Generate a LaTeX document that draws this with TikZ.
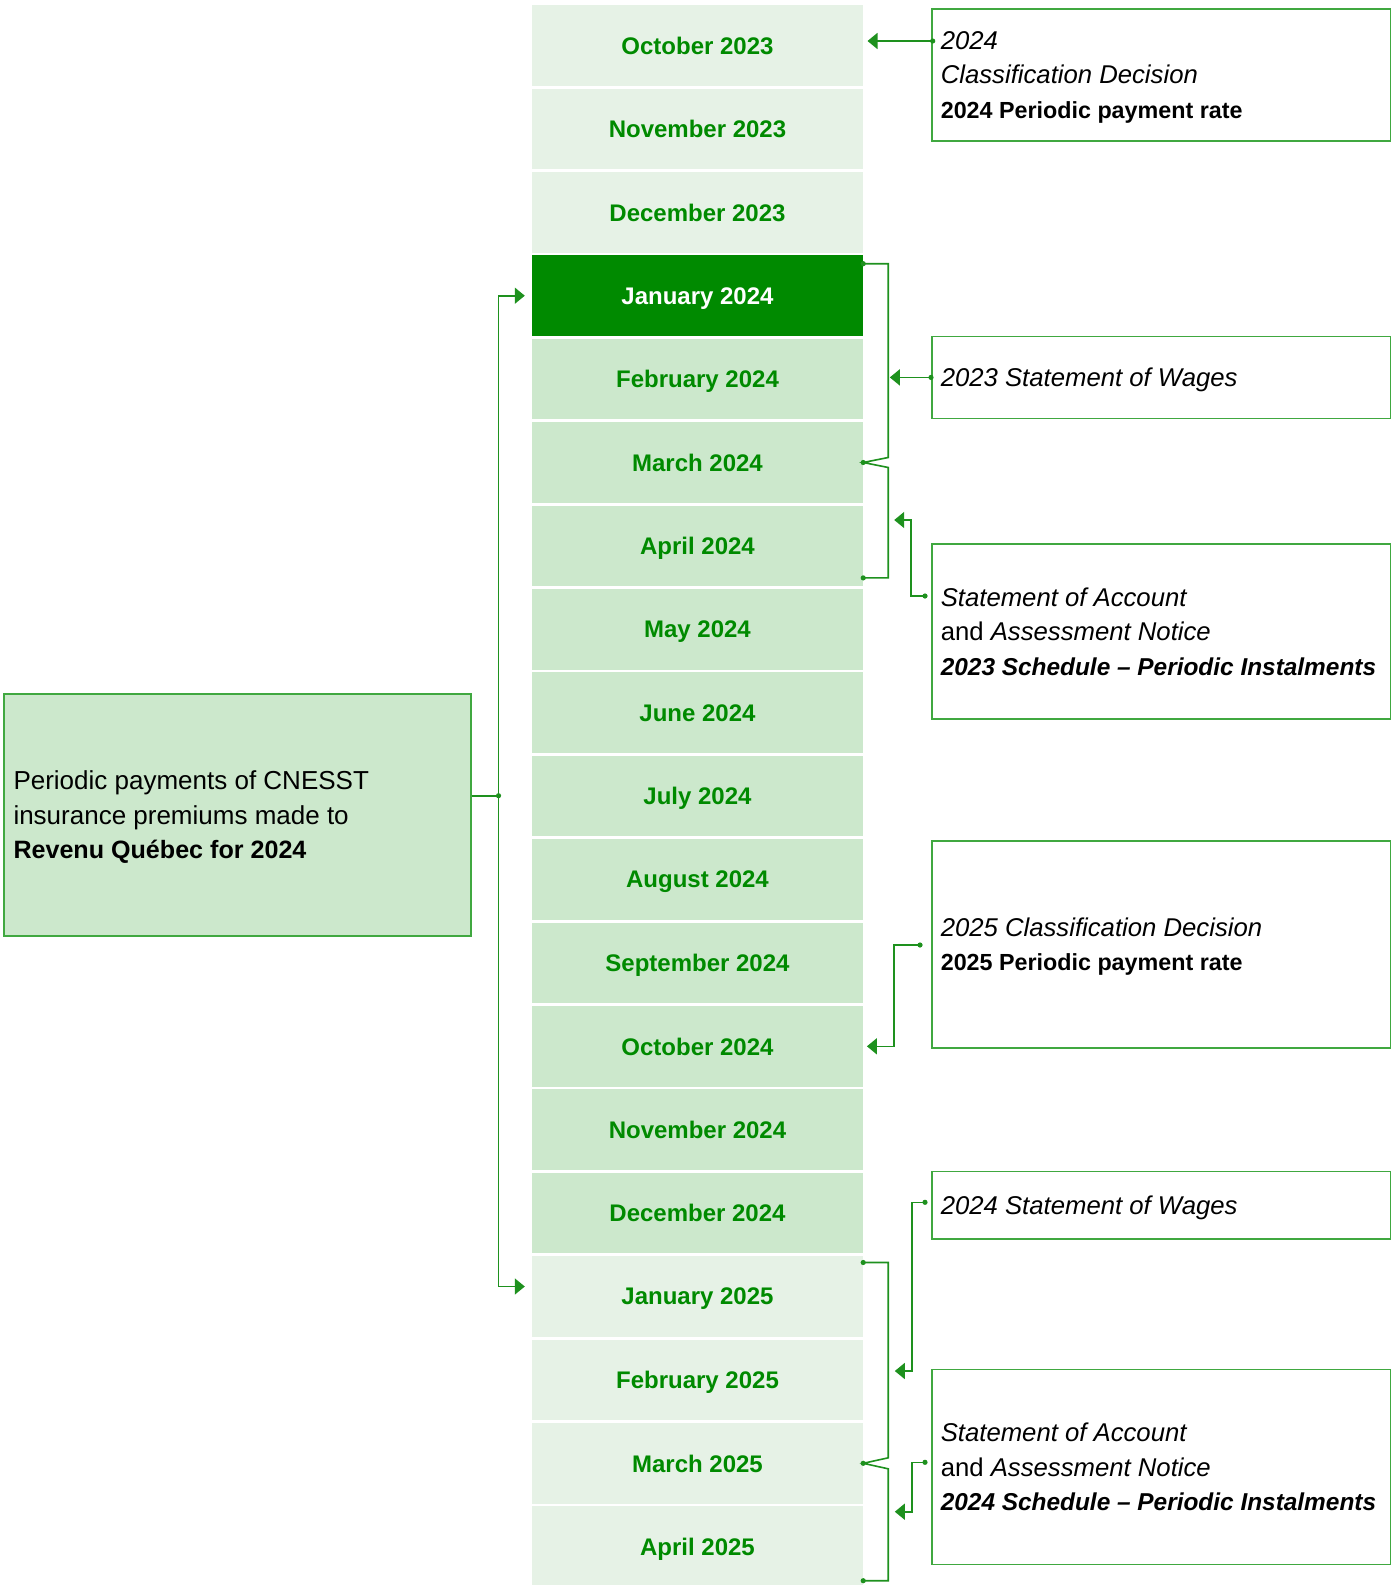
\documentclass[tikz,border=0pt]{standalone}
\usepackage{fontspec}
\setmainfont{Liberation Sans}
\usetikzlibrary{arrows.meta}
\usetikzlibrary{calc}

\definecolor{palegreen}{RGB}{230,242,230}
\definecolor{midgreen}{RGB}{204,232,204}
\definecolor{darkgreen}{RGB}{0,138,0}
\definecolor{txtgreen}{RGB}{0,138,0}
\definecolor{boxgreen}{RGB}{64,168,64}
\definecolor{linkgreen}{RGB}{30,145,30}

\newcommand{\bfline}[2][24.4]{{\fontsize{#1}{34.4}\selectfont\bfseries #2}}
%text block sitting on its last baseline, so boxes centre on the letters
\newcommand{\notetext}[2][441pt]{\begin{minipage}[b]{#1}\raggedright #2\end{minipage}}

\tikzset{
	month/.style={minimum width=331pt, minimum height=80.5pt, inner sep=0pt, text depth=0pt, font=\fontsize{24}{28}\selectfont\bfseries, text=txtgreen},
	monthout/.style={month, fill=palegreen},
	monthin/.style={month, fill=midgreen},
	monthnow/.style={month, fill=darkgreen, text=white},
	note/.style={draw=boxgreen, line width=1.6pt, anchor=north west, minimum width=459pt, text depth=0pt, inner xsep=9pt, inner ysep=0pt, font=\fontsize{25.7}{34.4}\selectfont, text=black},
	link/.style={draw=linkgreen, line width=1.6pt},
	linkarrow/.style={link, -{Triangle[length=10pt,width=16pt]}},
	dot/.style={fill=linkgreen}
}

\begin{document}
\begin{tikzpicture}[x=1pt,y=-1pt]

	%page frame, same size as the reference
	\useasboundingbox (0,0) rectangle (1391,1585);

	%declare constants
	\def\pitch{83.4}
	\def\brk{25}

	%month column
	\foreach \lbl/\sty [count=\i from 0] in {October 2023/monthout, November 2023/monthout, December 2023/monthout,
		January 2024/monthnow, February 2024/monthin, March 2024/monthin, April 2024/monthin, May 2024/monthin,
		June 2024/monthin, July 2024/monthin, August 2024/monthin, September 2024/monthin, October 2024/monthin,
		November 2024/monthin, December 2024/monthin, January 2025/monthout, February 2025/monthout,
		March 2025/monthout, April 2025/monthout} {
		\node[\sty] (m\i) at (697.5, {45.5+\pitch*\i}) {\lbl};
	}

	%left box
	\node[note, fill=midgreen, minimum width=466.7pt, minimum height=241.7pt, inner xsep=9.4pt, font=\fontsize{26}{34.4}\selectfont]
		(lbox) at (3.3,693.3) {\notetext[448pt]{Periodic payments of CNESST\\insurance premiums made to\\\bfline[25.1]{Revenu Québec for 2024}}};

	%right boxes
	\node[note, minimum height=131.7pt] (box1) at (931,8.3) {\notetext{\textit{2024}\\\textit{Classification Decision}\\\bfline[23.3]{2024 Periodic payment rate}}};
	\node[note, minimum height=82pt] (box2) at (931,335.6) {\notetext{\textit{2023 Statement of Wages}}};
	\node[note, minimum height=175pt] (box3) at (931,543) {\notetext{\textit{Statement of Account}\\and \textit{Assessment Notice}\\\bfline{\itshape 2023 Schedule – Periodic Instalments}}};
	\node[note, minimum height=207pt] (box4) at (931,840) {\notetext{\textit{2025 Classification Decision}\\\bfline[23.3]{2025 Periodic payment rate}}};
	\node[note, minimum height=67.4pt] (box5) at (931,1170.6) {\notetext{\textit{2024 Statement of Wages}}};
	\node[note, minimum height=195pt] (box6) at (931,1368.5) {\notetext{\textit{Statement of Account}\\and \textit{Assessment Notice}\\\bfline{\itshape 2024 Schedule – Periodic Instalments}}};

	%coordinates for connector starts and bends
	\coordinate (lj) at (498.5,795.7);
	\coordinate (sa1) at (932.7,41);
	\coordinate (sa3) at (925,596);
	\coordinate (ja3) at (911,520);
	\coordinate (sa4) at (920,945);
	\coordinate (sa5) at (925,1202.3);
	\coordinate (ja5) at (911.7,1371);
	\coordinate (sa6) at (925,1462.3);
	\coordinate (ja6) at (911.7,1511.7);
	\coordinate (b1top) at ($(m3.east)+(0,-32)$);
	\coordinate (b1bot) at ($(m6.east)+(0,32)$);
	\coordinate (b1s) at ($(m3.east)+(\brk,0)$);
	\coordinate (b2top) at ($(m15.east)+(0,-34)$);
	\coordinate (b2bot) at ($(m18.east)+(0,34)$);
	\coordinate (b2s) at ($(m15.east)+(\brk,0)$);

	%left feed into the 2024 payments
	\draw[link] (lbox.east |- lj) -- (lj);
	\draw[linkarrow, shorten >=7pt] (lj) |- (m3.west);
	\draw[linkarrow, shorten >=7pt] (lj) |- ($(m15.west)+(0,-10)$);

	%brackets, pointing at March
	\draw[link] (b1top) -- ++(\brk,0) -- ($(m5.east)+(\brk,-5)$) -- (m5.east) -- ($(m5.east)+(\brk,5)$) -- ($(b1bot)+(\brk,0)$) -- (b1bot);
	\draw[link] (b2top) -- ++(\brk,0) -- ($(m17.east)+(\brk,-5.5)$) -- (m17.east) -- ($(m17.east)+(\brk,5.5)$) -- ($(b2bot)+(\brk,0)$) -- (b2bot);

	%arrows from the boxes
	\draw[linkarrow, shorten >=4.3pt] (sa1) -- (sa1 -| m0.east);
	\draw[linkarrow, shorten >=1.6pt] (box2.west) -- (box2.west -| b1s);
	\draw[linkarrow, shorten >=6pt] (sa3) -| (ja3) -- (ja3 -| b1s);
	\draw[linkarrow, shorten >=3.7pt] (sa4) -| ($(m12.east)+(31,0)$) -- (m12.east);
	\draw[linkarrow, shorten >=6.6pt] (sa5) -| (ja5) -- (ja5 -| b2s);
	\draw[linkarrow, shorten >=6.6pt] (sa6) -| (ja6) -- (ja6 -| b2s);

	%dots
	\foreach \p in {lj, sa1, sa3, sa4, sa5, sa6, box2.west, b1top, b1bot, m5.east, b2top, b2bot, m17.east} {
		\fill[dot] (\p) circle (2.6);
	}

\end{tikzpicture}
\end{document}
